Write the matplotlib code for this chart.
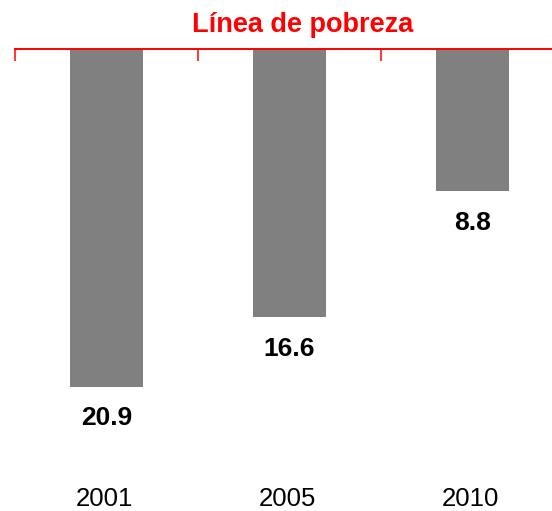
import matplotlib
matplotlib.use('Agg')
import matplotlib.pyplot as plt

years = ['2001', '2005', '2010']
values = [20.9, 16.6, 8.8]
title = 'Línea de pobreza'

plt.rcParams['font.family'] = ['Liberation Sans', 'DejaVu Sans']

W, H = 552, 511
fig = plt.figure(figsize=(W / 100, H / 100), dpi=100)

# axes: left edge at first boundary tick, top edge at the red line
left_px, top_px = 15, 49
ax = fig.add_axes([left_px / W, 0, 1 - left_px / W, 1 - top_px / H])

x = list(range(len(years)))
ax.bar(x, values, width=0.4, color='#808080', align='center')

unit_px = 183
ax.set_xlim(-0.5, -0.5 + (W - left_px) / unit_px)
ax.set_ylim((H - top_px) / 16.15, 0)

for s in ['left', 'right', 'bottom']:
    ax.spines[s].set_visible(False)
ax.spines['top'].set_color('red')
ax.spines['top'].set_linewidth(1.4)

ax.xaxis.set_ticks_position('top')
ax.set_xticks([-0.5, 0.5, 1.5])
ax.set_xticklabels([])
ax.tick_params(axis='x', direction='in', length=8.5, width=1.1, color='red')
ax.set_yticks([])

for xi, v in zip(x, values):
    ax.annotate(f'{v:.1f}', (xi, v), xytext=(0, -23), textcoords='offset points',
                ha='center', va='center', fontsize=19, fontweight='bold')

ax_h = H - top_px
for xi, yr in zip(x, years):
    ax.text(xi - 0.01, 1 - (505.5 - top_px) / ax_h, yr, transform=ax.get_xaxis_transform(),
            ha='center', va='baseline', fontsize=18.5)

fig.text(303 / W, 1 - 32 / H, title, color='red', fontsize=19.5,
         fontweight='bold', ha='center', va='baseline')

fig.savefig('out.png', dpi=100)
